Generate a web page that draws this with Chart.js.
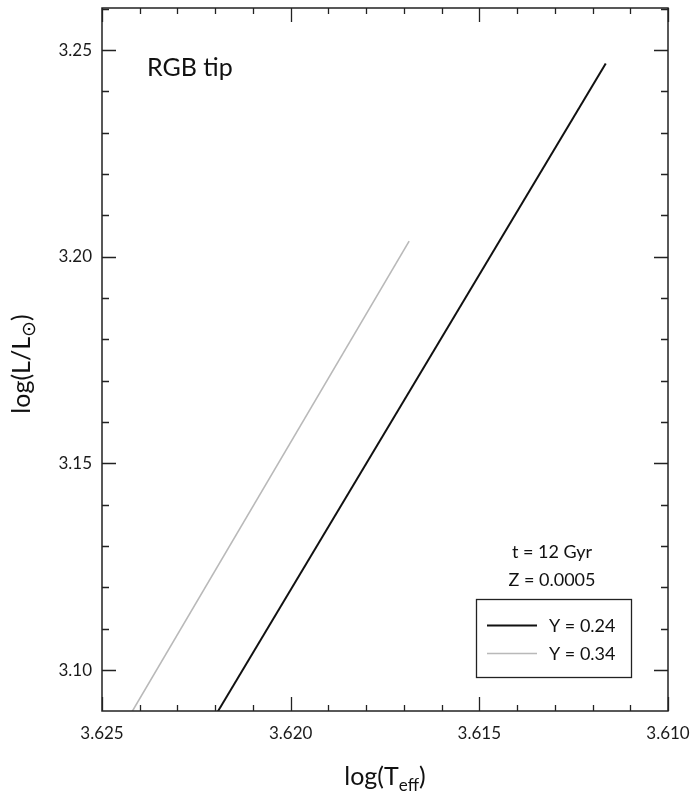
<!DOCTYPE html>
<html>
<head>
<meta charset="utf-8">
<script src="https://cdn.jsdelivr.net/npm/chart.js@4/dist/chart.umd.min.js"></script>
<style>
  html, body { margin: 0; padding: 0; background: #fff; }
  #c { display: block; }
</style>
</head>
<body>
<canvas id="c" width="691" height="797"></canvas>
<script>
// RGB-tip tracks in the HR plane for two helium abundances
const seriesLabels = ['Y = 0.24', 'Y = 0.34'];
const teffY024 = [3.62193, 3.61165];
const lumY024  = [3.0900, 3.24678];
const teffY034 = [3.62420, 3.61686];
const lumY034  = [3.0900, 3.2038];

// axis ticks
const xMajorTicks = [3.625, 3.620, 3.615, 3.610];
const yMajorTicks = [3.10, 3.15, 3.20, 3.25];
const xMinorStep = 0.001;
const yMinorStep = 0.01;

const annotationLines = ['t = 12 Gyr', 'Z = 0.0005'];
const panelLabel = 'RGB tip';

const FONT = "Lato, 'Open Sans', 'DejaVu Sans', sans-serif";
const INK = '#222';

function toPoints(xs, ys) { return xs.map((x, i) => ({ x: x, y: ys[i] })); }

const framePlugin = {
  id: 'frame',
  afterDraw(chart) {
    const ctx = chart.ctx;
    const a = chart.chartArea;
    const xs = chart.scales.x, ys = chart.scales.y;
    ctx.save();
    ctx.strokeStyle = INK;
    ctx.lineWidth = 1.5;
    ctx.strokeRect(a.left, a.top, a.right - a.left, a.bottom - a.top);

    // inward tick marks on all four sides
    ctx.lineWidth = 1.3;
    ctx.beginPath();
    const xMin = Math.min(xs.min, xs.max), xMax = Math.max(xs.min, xs.max);
    for (let k = Math.round(xMin / xMinorStep); k * xMinorStep <= xMax + 1e-9; k++) {
      const v = k * xMinorStep;
      const isMajor = xMajorTicks.some(t => Math.abs(t - v) < 1e-7);
      const len = isMajor ? 14 : 6;
      const px = Math.round(xs.getPixelForValue(v)) + 0.5;
      ctx.moveTo(px, a.bottom); ctx.lineTo(px, a.bottom - len);
      ctx.moveTo(px, a.top); ctx.lineTo(px, a.top + len);
    }
    for (let k = Math.ceil(ys.min / yMinorStep - 1e-6); k * yMinorStep <= ys.max + 1e-9; k++) {
      const v = k * yMinorStep;
      const isMajor = yMajorTicks.some(t => Math.abs(t - v) < 1e-7);
      const len = isMajor ? 14 : 7;
      const py = Math.round(ys.getPixelForValue(v)) + 0.5;
      ctx.moveTo(a.left, py); ctx.lineTo(a.left + len, py);
      ctx.moveTo(a.right, py); ctx.lineTo(a.right - len, py);
    }
    ctx.stroke();

    ctx.fillStyle = '#111';
    // x axis title: log(T_eff)
    ctx.textBaseline = 'alphabetic';
    ctx.font = '25px ' + FONT;
    const xMain = 'log(T', xSub = 'eff', xEnd = ')';
    const wMain = ctx.measureText(xMain).width;
    const wEnd = ctx.measureText(xEnd).width;
    ctx.font = '17px ' + FONT;
    const wSub = ctx.measureText(xSub).width;
    let tx = 385 - (wMain + wSub + wEnd) / 2;
    const tyBase = 785;
    ctx.font = '25px ' + FONT;
    ctx.textAlign = 'left';
    ctx.fillText(xMain, tx, tyBase);
    ctx.font = '17px ' + FONT;
    ctx.fillText(xSub, tx + wMain, tyBase + 6);
    ctx.font = '25px ' + FONT;
    ctx.fillText(xEnd, tx + wMain + wSub, tyBase);

    // y axis title: log(L/L_sun), rotated
    ctx.save();
    ctx.translate(30, 364);
    ctx.rotate(-Math.PI / 2);
    ctx.font = '25px ' + FONT;
    const yMain = 'log(L/L', ySub = '\u2299', yEnd = ')';
    const ywMain = ctx.measureText(yMain).width;
    const ywEnd = ctx.measureText(yEnd).width;
    ctx.font = '19px ' + FONT;
    const ywSub = ctx.measureText(ySub).width;
    let ty = -(ywMain + ywSub + ywEnd) / 2;
    ctx.font = '25px ' + FONT;
    ctx.fillText(yMain, ty, 0);
    ctx.font = '19px ' + FONT;
    ctx.fillText(ySub, ty + ywMain, 5);
    ctx.font = '25px ' + FONT;
    ctx.fillText(yEnd, ty + ywMain + ywSub, 0);
    ctx.restore();

    // panel label
    ctx.font = '25px ' + FONT;
    ctx.textAlign = 'left';
    ctx.fillText(panelLabel, 147, 76);

    // model parameters
    ctx.font = '18px ' + FONT;
    ctx.textAlign = 'center';
    ctx.fillText(annotationLines[0], 552, 558);
    ctx.fillText(annotationLines[1], 552, 586);

    // legend box
    ctx.lineWidth = 1.3;
    ctx.strokeStyle = INK;
    ctx.strokeRect(476.5, 599.5, 155, 78);
    ctx.textAlign = 'left';
    ctx.textBaseline = 'middle';
    const rows = [625, 653];
    chart.data.datasets.forEach((ds, i) => {
      ctx.strokeStyle = ds.borderColor;
      ctx.lineWidth = ds.borderWidth;
      ctx.beginPath();
      ctx.moveTo(487, rows[i] + 0.5);
      ctx.lineTo(537, rows[i] + 0.5);
      ctx.stroke();
      ctx.fillStyle = '#111';
      ctx.fillText(ds.label, 549, rows[i] + 1);
    });
    ctx.restore();
  }
};

new Chart(document.getElementById('c'), {
  type: 'scatter',
  data: {
    datasets: [
      {
        label: seriesLabels[0],
        data: toPoints(teffY024, lumY024),
        showLine: true,
        borderColor: '#111111',
        borderWidth: 2,
        pointRadius: 0
      },
      {
        label: seriesLabels[1],
        data: toPoints(teffY034, lumY034),
        showLine: true,
        borderColor: '#b9b9b9',
        borderWidth: 1.6,
        pointRadius: 0
      }
    ]
  },
  options: {
    responsive: false,
    animation: false,
    devicePixelRatio: 1,
    layout: { padding: { top: 8, right: 23, left: 0, bottom: 0 } },
    plugins: { legend: { display: false }, tooltip: { enabled: false } },
    scales: {
      x: {
        type: 'linear',
        reverse: true,
        min: 3.610,
        max: 3.625,
        grid: { display: false, drawTicks: false },
        border: { display: false },
        afterBuildTicks: s => { s.ticks = xMajorTicks.map(v => ({ value: v })); },
        afterFit: s => { s.height = 86; s.paddingLeft = 0; s.paddingRight = 0; },
        ticks: {
          callback: v => Number(v).toFixed(3),
          font: { family: FONT, size: 17 },
          color: '#1a1a1a',
          padding: 12,
          maxRotation: 0,
          autoSkip: false
        }
      },
      y: {
        type: 'linear',
        min: 3.0901,
        max: 3.2602,
        grid: { display: false, drawTicks: false },
        border: { display: false },
        afterBuildTicks: s => { s.ticks = yMajorTicks.map(v => ({ value: v })); },
        afterFit: s => { s.width = 102; s.paddingTop = 0; s.paddingBottom = 0; },
        ticks: {
          callback: v => Number(v).toFixed(2),
          font: { family: FONT, size: 17 },
          color: '#1a1a1a',
          padding: 10,
          autoSkip: false
        }
      }
    }
  },
  plugins: [framePlugin]
});
</script>
</body>
</html>
